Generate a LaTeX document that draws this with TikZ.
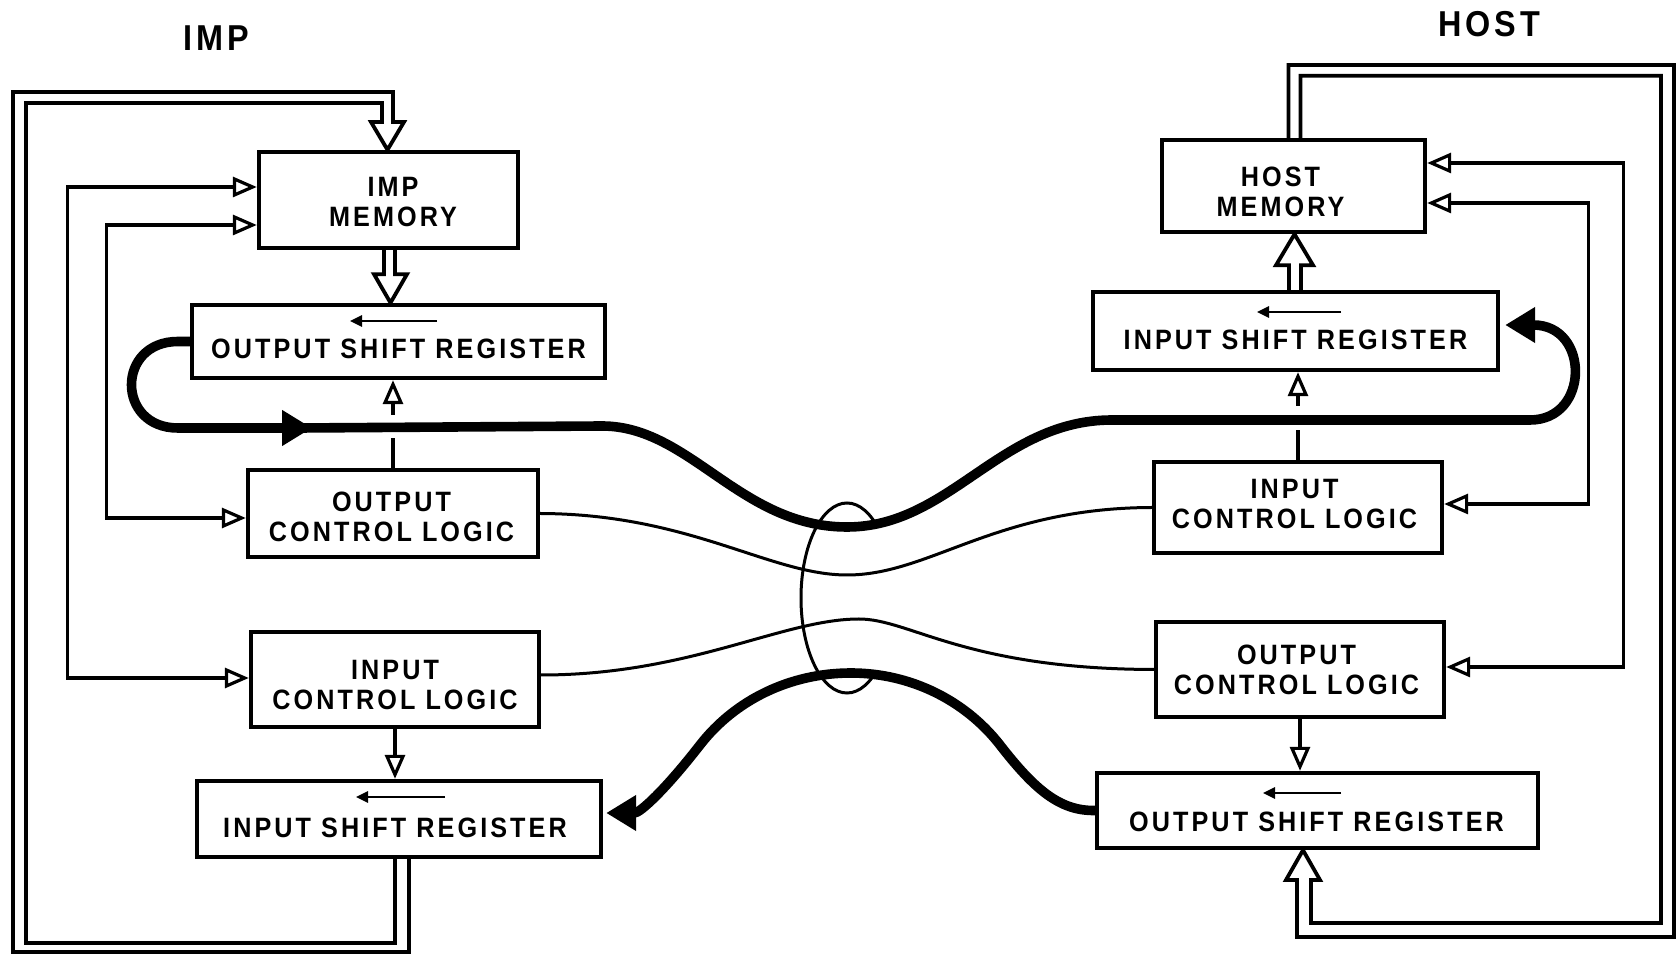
\documentclass[tikz,border=0pt]{standalone}
\usepackage{fontspec}
\setmainfont{Liberation Sans}[FakeStretch=0.9, LetterSpace=11]
\usetikzlibrary{arrows.meta,calc,fit}
\begin{document}
\begin{tikzpicture}[x=0.5pt,y=-0.5pt,
  box/.style={draw, line width=2.2pt, inner sep=0pt},
  lbl/.style={font=\fontsize{14}{15}\selectfont\bfseries, align=center, inner sep=0pt},
  ttl/.style={font=\fontsize{18}{20}\selectfont\bfseries, inner sep=0pt},
  ctl/.style={line width=1.6pt, >={Triangle[open,length=12pt,width=10pt]}},
  dbl/.style={line width=1.9pt, line join=miter},
  sig/.style={line width=4.8pt},
  sigtip/.style={-{Triangle[length=15pt,width=17pt]}},
  wire/.style={line width=1.5pt},
  shiftarr/.style={line width=1.3pt, -{Triangle[length=6pt,width=5.5pt]}}
]
\fill[white] (0,0) rectangle (1678,956);
\useasboundingbox (0,0) rectangle (1678,956);

% boxes
\node[box, fit={(259,152) (518,248)}] (impmem) {};
\node[box, fit={(192,305) (605,378)}] (osrL) {};
\node[box, fit={(248,470) (538,557)}] (oclL) {};
\node[box, fit={(251,632) (539,727)}] (iclL) {};
\node[box, fit={(197,781) (601,857)}] (isrL) {};
\node[box, fit={(1162,140) (1425,232)}] (hostmem) {};
\node[box, fit={(1093,292) (1498,370)}] (isrR) {};
\node[box, fit={(1154,462) (1442,553)}] (iclR) {};
\node[box, fit={(1156,622) (1444,717)}] (oclR) {};
\node[box, fit={(1097,773) (1538,848)}] (osrR) {};

% texts
\node[ttl] (implbl) at (216.5,38.5) {IMP};
\node[ttl] (hostlbl) at (1489,24.5) {HOST};
\node[lbl] (impmemT) at ($(impmem.center)+(4.5,2)$) {IMP\\MEMORY};
\node[lbl] (osrLT) at ($(osrL.center)+(0,7.5)$) {OUTPUT SHIFT REGISTER};
\node[lbl] (oclLT) at ($(oclL.center)+(-1.5,3.5)$) {OUTPUT\\CONTROL LOGIC};
\node[lbl] (iclLT) at ($(iclL.center)+(0,5.5)$) {INPUT\\CONTROL LOGIC};
\node[lbl] (isrLT) at ($(isrL.center)+(-4,9)$) {INPUT SHIFT REGISTER};
\node[lbl] (hostmemT) at ($(hostmem.center)+(-13,5.5)$) {HOST\\MEMORY};
\node[lbl] (isrRT) at ($(isrR.center)+(0,9)$) {INPUT SHIFT REGISTER};
\node[lbl] (iclRT) at ($(iclR.center)+(-3.5,-3.5)$) {INPUT\\CONTROL LOGIC};
\node[lbl] (oclRT) at ($(oclR.center)+(-3.5,0)$) {OUTPUT\\CONTROL LOGIC};
\node[lbl] (osrRT) at ($(osrR.center)+(-1,11.5)$) {OUTPUT SHIFT REGISTER};

% shift direction arrows
\draw[shiftarr] ($(osrL.center)+(38.5,-20.5)$) -- ++(-87,0);
\draw[shiftarr] ($(isrL.center)+(46,-22)$) -- ++(-89,0);
\draw[shiftarr] ($(isrR.center)+(45.5,-19)$) -- ++(-84,0);
\draw[shiftarr] ($(osrR.center)+(23.5,-17.5)$) -- ++(-78,0);

% wide (double) arrows
\draw[dbl] ($(isrL.south)+(-4,0)$) |- (26,943) |- (382,103) -- (382,122) -- (371,122)
  -- ($(impmem.north)+(-1,0)$) -- (404,122) -- (393,122) |- (13,92) |- (409,952)
  -- ($(isrL.south)+(10,0)$);
\draw[dbl] ($(impmem.south)+(-4.5,0)$) -- ($(impmem.south)+(-4.5,24)$)
  -- ($(impmem.south)+(-14.5,24)$) -- ($(impmem.south |- osrL.north)+(2,0)$)
  -- ($(impmem.south)+(18.5,24)$) -- ($(impmem.south)+(6.5,24)$)
  -- ($(impmem.south)+(6.5,0)$);
\draw[dbl] ($(hostmem.north)+(-5,0)$) |- (1674,65) |- (1297,937) -- (1297,880)
  -- (1286,880) -- ($(osrR.south)+(-14.5,0)$) -- (1320,880) -- (1311,880)
  |- (1661,923) |- ($(hostmem.north)+(7,-62)$) -- ($(hostmem.north)+(7,0)$);
\draw[dbl] ($(hostmem.south |- isrR.north)+(-4.5,0)$) -- ($(hostmem.south)+(-4.5,31)$)
  -- ($(hostmem.south)+(-17.5,31)$) -- ($(hostmem.south)+(1,0)$)
  -- ($(hostmem.south)+(19.5,31)$) -- ($(hostmem.south)+(7.5,31)$)
  -- ($(hostmem.south |- isrR.north)+(7.5,0)$);

% control lines
\draw[ctl,<->] ($(impmem.west)+(0,-13)$) -| ($(iclL.west)+(-181,-1.5)$) -- ($(iclL.west)+(0,-1.5)$);
\draw[ctl,<->] ($(impmem.west)+(0,25)$) -| ($(oclL.west)+(-139,4.5)$) -- ($(oclL.west)+(0,4.5)$);
\draw[ctl,<->] ($(hostmem.east)+(0,-23)$) -| ($(oclR.east)+(177,-2.5)$) -- ($(oclR.east)+(0,-2.5)$);
\draw[ctl,<->] ($(hostmem.east)+(0,17)$) -| ($(iclR.east)+(144,-3.5)$) -- ($(iclR.east)+(0,-3.5)$);

\draw[ctl] (oclL.north) -- ($(oclL.north)+(0,-30)$);
\draw[ctl,->] ($(oclL.north)+(0,-53)$) -- (oclL.north |- osrL.south);
\draw[ctl] (iclR.north) -- ($(iclR.north)+(0,-30)$);
\draw[ctl,->] ($(iclR.north)+(0,-54)$) -- (iclR.north |- isrR.south);
\draw[ctl,->] (iclL.south) -- (iclL.south |- isrL.north);
\draw[ctl,->] (oclR.south) -- (oclR.south |- osrR.north);

% cable tie (oval), right side hidden behind the bundle
\coordinate (tie) at (847,598);
\begin{scope}
  \clip (700,0) rectangle (847,956) (847,0) rectangle (960,524) (847,676) rectangle (960,956);
  \draw[wire] (tie) ellipse [x radius=46, y radius=95];
\end{scope}

% thin wires
\draw[wire] (oclL.east) .. controls (690,514) and (770,575) .. (847,575)
  .. controls (930,575) and (995,508) .. (iclR.west);
\draw[wire] ($(iclL.east)+(0,-4.5)$) .. controls (690,675) and (783,619) .. (859,619)
  .. controls (910,619) and (965,669) .. (oclR.west);

% thick data lines
\draw[sig, sigtip] (osrL.west) -- (178,341.5) .. controls (116,341.5) and (116,428) .. (178,428) -- (312,428);
\draw[sig, sigtip] (300,428) -- (602,426) .. controls (690,426) and (740,527) .. (847,527)
  .. controls (950,527) and (1000,420) .. (1112,420) -- (1530,420)
  .. controls (1590,420) and (1590,325) .. ($(isrR.east)+(5,-6)$);
\draw[sig, sigtip] (osrR.west) .. controls (1060,811) and (1035,790) .. (1000,745)
  .. controls (965,700) and (910,673) .. (851,673)
  .. controls (790,673) and (735,700) .. (700,745)
  .. controls (665,790) and (640,813) .. ($(isrL.east)+(3,-6)$);
\end{tikzpicture}
\end{document}
